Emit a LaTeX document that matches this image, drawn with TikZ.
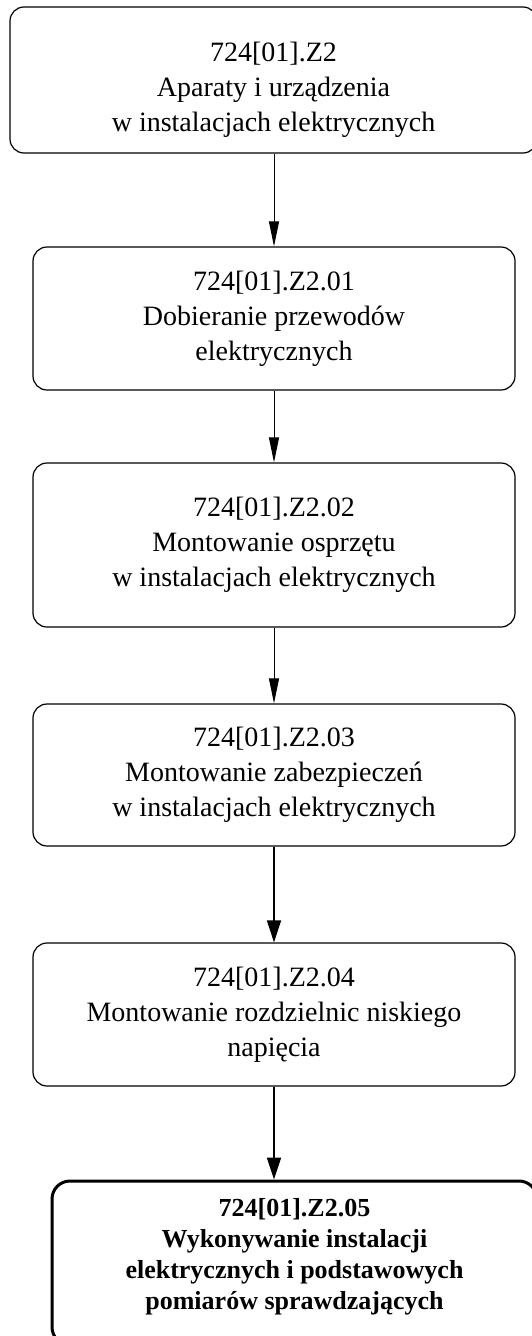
\documentclass[tikz,border=0pt]{standalone}
\usepackage{fontspec}
\setmainfont{Liberation Serif}
\usetikzlibrary{arrows.meta}
\begin{document}
\begin{tikzpicture}[x=1pt,y=-1pt,
  box/.style={draw=black, line width=1.2pt, rounded corners=14pt, align=center,
    inner sep=0pt, font=\fontsize{28}{35}\selectfont},
  finalbox/.style={draw=black, line width=3pt, rounded corners=18pt, align=center,
    inner sep=0pt, font=\fontsize{26}{31}\selectfont\bfseries},
  thinarrow/.style={line width=1pt, -{Triangle[length=25pt,width=10pt]}},
  thickarrow/.style={line width=1.8pt, -{Triangle[length=22pt,width=14pt]}}
]
\useasboundingbox (0,0) rectangle (531,1336);
\node[box, minimum width=527pt, minimum height=146pt] (b1) at (273.5,80)
  {\rule{0pt}{39pt}724[01].Z2\\Aparaty i urządzenia\\w instalacjach elektrycznych};
\node[box, minimum width=482pt, minimum height=143pt] (b2) at (274,318.5)
  {724[01].Z2.01\\Dobieranie przewodów\\elektrycznych};
\node[box, minimum width=482pt, minimum height=164pt] (b3) at (274,545)
  {724[01].Z2.02\\Montowanie osprzętu\\w instalacjach elektrycznych};
\node[box, minimum width=482pt, minimum height=142pt] (b4) at (274,775)
  {724[01].Z2.03\\Montowanie zabezpieczeń\\w instalacjach elektrycznych};
\node[box, minimum width=482pt, minimum height=143pt] (b5) at (274,1014.5)
  {724[01].Z2.04\\Montowanie rozdzielnic niskiego\\napięcia};
\node[finalbox, minimum width=485pt, minimum height=164pt] (b6) at (294.5,1263)
  {724[01].Z2.05\\Wykonywanie instalacji\\elektrycznych i podstawowych\\pomiarów sprawdzających\rule[-18pt]{0pt}{18pt}};
\draw[thinarrow] (b2.north |- b1.south) -- (b2.north);
\draw[thinarrow] (b2.south) -- (b3.north);
\draw[thinarrow] (b3.south) -- (b4.north);
\draw[thickarrow] (b4.south) -- (b5.north);
\draw[thickarrow] (b5.south) -- (b5.south |- b6.north);
\end{tikzpicture}
\end{document}
